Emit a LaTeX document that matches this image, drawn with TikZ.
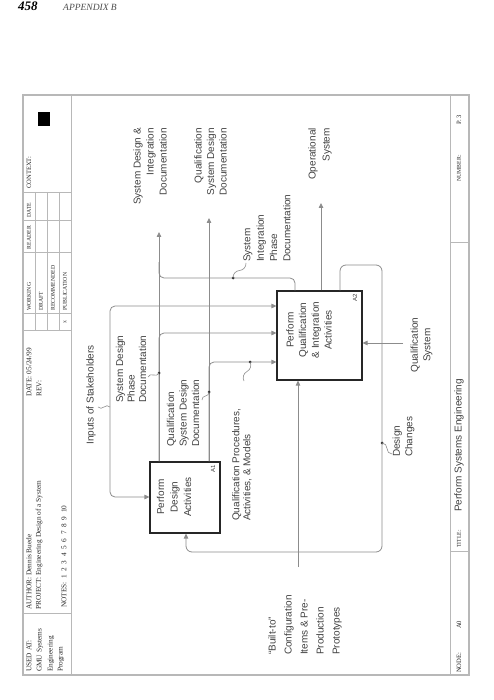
\documentclass[tikz,border=0pt]{standalone}
\usepackage{fontspec}
\setmainfont{Liberation Sans}
\newfontfamily\hdr{Liberation Serif}
\newfontfamily\pgfont{Liberation Serif}
\usetikzlibrary{arrows.meta,calc}
\definecolor{ln}{gray}{0.55}
\definecolor{tx}{gray}{0.25}
\definecolor{fr}{gray}{0.72}
\begin{document}
\begin{tikzpicture}[x=1pt,y=-1pt,
  conn/.style={draw=ln, line width=0.8pt},
  arr/.style={-{Triangle[length=5pt,width=4.5pt]}},
  box/.style={draw=black!85, line width=1.1pt, inner sep=0pt},
  lbl/.style={rotate=90, text=tx, font=\fontsize{10}{12.5}\selectfont, inner sep=0pt},
  boxtxt/.style={rotate=90, text=tx, font=\fontsize{10}{13.5}\selectfont, inner sep=0pt, align=center},
  hd/.style={rotate=90, anchor=west, inner sep=0pt, font=\hdr\fontsize{7.3}{8}\selectfont, text=black!85},
  hds/.style={hd, font=\hdr\fontsize{5.8}{6}\selectfont},
  hdm/.style={hd, font=\hdr\fontsize{6.6}{7}\selectfont},
  grid/.style={draw=fr, line width=0.7pt},
  dot/.style={circle, fill=black!80, inner sep=0pt, minimum size=3pt}]
\useasboundingbox (0,0) rectangle (494,700);
% page header
\node[anchor=base west, inner sep=0pt, font=\pgfont\bfseries\itshape\fontsize{13}{13}\selectfont] (pg) at (18,10.5) {458};
\node[anchor=base west, inner sep=0pt, text=black!70, font=\pgfont\itshape\fontsize{9.5}{10}\selectfont] (app) at (63,10.5) {APPENDIX B};
% frame
\draw[draw=fr, line width=1.6pt] (23,95) rectangle (469,675);
\draw[grid] (71,95) -- (71,675);
\draw[grid] (450,95) -- (450,675);
% header cells
\foreach \yy in {613,330,313,252,220,192} \draw[grid] (23,\yy) -- (71,\yy);
\foreach \xx in {35,47,59} \draw[grid] (\xx,192) -- (\xx,330);
\fill[black] (38,112) rectangle (50,126);
\node[hd] (h1) at (29,672) {USED AT:};
\node[hd] (h2) at (40,672) {GMU Systems};
\node[hd] (h3) at (51,672) {Engineering};
\node[hd] (h4) at (61,672) {Program};
\node[hd] (h5) at (29,610) {AUTHOR: Dennis Buede};
\node[hd] (h6) at (39,610) {PROJECT: Engineering Design of a System};
\node[hd] (h7) at (64,608) {NOTES:\ \ 1\ \ 2\ \ 3\ \ 4\ \ 5\ \ 6\ \ 7\ \ 8\ \ 9\ \ 10};
\node[hd] (h8) at (29,397) {DATE: 05/24/99};
\node[hd] (h9) at (39,397) {REV:};
\node[hds] (h10) at (29,311) {WORKING};
\node[hds] (h11) at (41,311) {DRAFT};
\node[hds] (h12) at (53,311) {RECOMMENDED};
\node[hds] (h13) at (65,311) {PUBLICATION};
\node[hds] (h14) at (65,324) {x};
\node[hds] (h15) at (29,249.5) {READER};
\node[hds] (h16) at (29,217.5) {DATE};
\node[hdm] (h17) at (29,189) {CONTEXT:};
% footer
\draw[grid] (450,242) -- (469,242);
\draw[grid] (450,551) -- (469,551);
\node[hdm] (f1) at (459,673) {NODE:};
\node[hdm] (f2) at (459,629) {A0};
\node[hds] (f3) at (459,548) {TITLE:};
\node[rotate=90, anchor=west, inner sep=0pt, text=tx, font=\fontsize{10}{12}\selectfont] (f4) at (459,512) {Perform Systems Engineering};
\node[hds] (f5) at (459,182) {NUMBER:};
\node[hdm] (f6) at (459,125) {P. 3};
% boxes
\node[box, minimum width=70pt, minimum height=71pt] (A1) at (185,497.5) {};
\node[box, minimum width=85pt, minimum height=89pt] (A2) at (319.5,335.5) {};
\node[boxtxt] (A1t) at (174,497) {Perform\\Design\\Activities};
\node[boxtxt, font=\fontsize{10}{12.7}\selectfont] (A2t) at (309,330) {Perform\\Qualification\\\& Integration\\Activities};
\node[rotate=90, inner sep=0pt, font=\fontsize{6}{7}\selectfont, text=tx] (A1n) at (213,469) {A1};
\node[rotate=90, inner sep=0pt, font=\fontsize{6}{7}\selectfont, text=tx] (A2n) at (355,298) {A2};
% connectors
\coordinate (stk) at (110,400);
\draw[conn, arr, rounded corners=5pt] (stk) |- (A1.west |- 0,497);
\draw[conn, arr, rounded corners=5pt] (stk) |- (A2.west |- 0,306);
\coordinate (o1) at (159,232);
\coordinate (o2) at (209,218);
\coordinate (o3) at (321,203);
\draw[conn, arr] (A1.north -| 159,0) -- (o1);
\draw[conn, arr, rounded corners=5pt] (A1.north -| 159,0) |- (A2.west |- 0,333);
\draw[conn, arr] (A1.north -| 209,0) -- (o2);
\draw[conn, arr, rounded corners=5pt] (A1.north -| 209,0) |- (A2.west |- 0,362);
\draw[conn, rounded corners=5pt] (A2.north -| 295,0) |- (159,278) -- (o1 |- 0,262);
\draw[conn, arr] (A2.north -| 321,0) -- (o3);
\draw[conn, arr, rounded corners=6pt] (A2.north -| 340,0) |- (382,265) |- (186,552) -- (A1.south -| 186,0);
\coordinate (bi) at (298,567);
\draw[conn, arr] (bi) -- (A2.south -| 298,0);
\coordinate (qs) at (403,343);
\draw[conn, arr] (qs) -- (A2.east |- 0,343);
% dots and squiggles
\node[dot] (d1) at (159,373) {};
\node[dot] (d2) at (209,392) {};
\node[dot] (d3) at (250,362) {};
\node[dot] (d4) at (233,278) {};
\node[dot] (d5) at (382,443) {};
\coordinate (e1) at (148,377);
\coordinate (e2) at (202,400);
\coordinate (e3) at (244,381);
\coordinate (e4) at (246,263);
\coordinate (e5) at (392,454);
\coordinate (e0a) at (110,407);
\coordinate (e0b) at (98,407);
\foreach \d/\e in {d1/e1,d2/e2,d3/e3,d4/e4,d5/e5}
  \draw[conn, line width=0.6pt] (\d.center) to[bend left=45] ($(\d.center)!0.5!(\e)$) to[bend right=45] (\e);
\draw[conn, line width=0.6pt] (e0a) to[bend right=45] ($(e0a)!0.5!(e0b)$) to[bend left=45] (e0b);
% labels
\node[lbl] (l0) at (91,395) {Inputs of Stakeholders};
\node[lbl, anchor=west, align=left, font=\fontsize{10}{11.5}\selectfont] (l1) at (131,403) {System Design\\Phase\\Documentation};
\node[lbl, anchor=west, align=left] (l2) at (183,447) {Qualification\\System Design\\Documentation};
\node[lbl, anchor=west, align=left, font=\fontsize{10}{11}\selectfont] (l3) at (242,521) {Qualification Procedures,\\Activities, \& Models};
\node[lbl, anchor=west, align=left, font=\fontsize{10}{13.3}\selectfont] (l4) at (267,262) {System\\Integration\\Phase\\Documentation};
\node[lbl, anchor=east, align=right, font=\fontsize{10}{13}\selectfont] (l5) at (150,128) {System Design \&\\Integration\\Documentation};
\node[lbl, anchor=east, align=right] (l6) at (210.5,128) {Qualification\\System Design\\Documentation};
\node[lbl, anchor=east, align=right, font=\fontsize{10}{14}\selectfont] (l7) at (320,128) {Operational\\System};
\node[lbl, anchor=west, align=left] (l8) at (403.5,457) {Design\\Changes};
\node[lbl, anchor=west, align=left, font=\fontsize{10}{16}\selectfont] (l9) at (305,655) {“Built-to”\\Configuration\\Items \& Pre-\\Production\\Prototypes};
\node[lbl, align=center] (l10) at (421.5,345) {Qualification\\System};
\end{tikzpicture}
\end{document}
